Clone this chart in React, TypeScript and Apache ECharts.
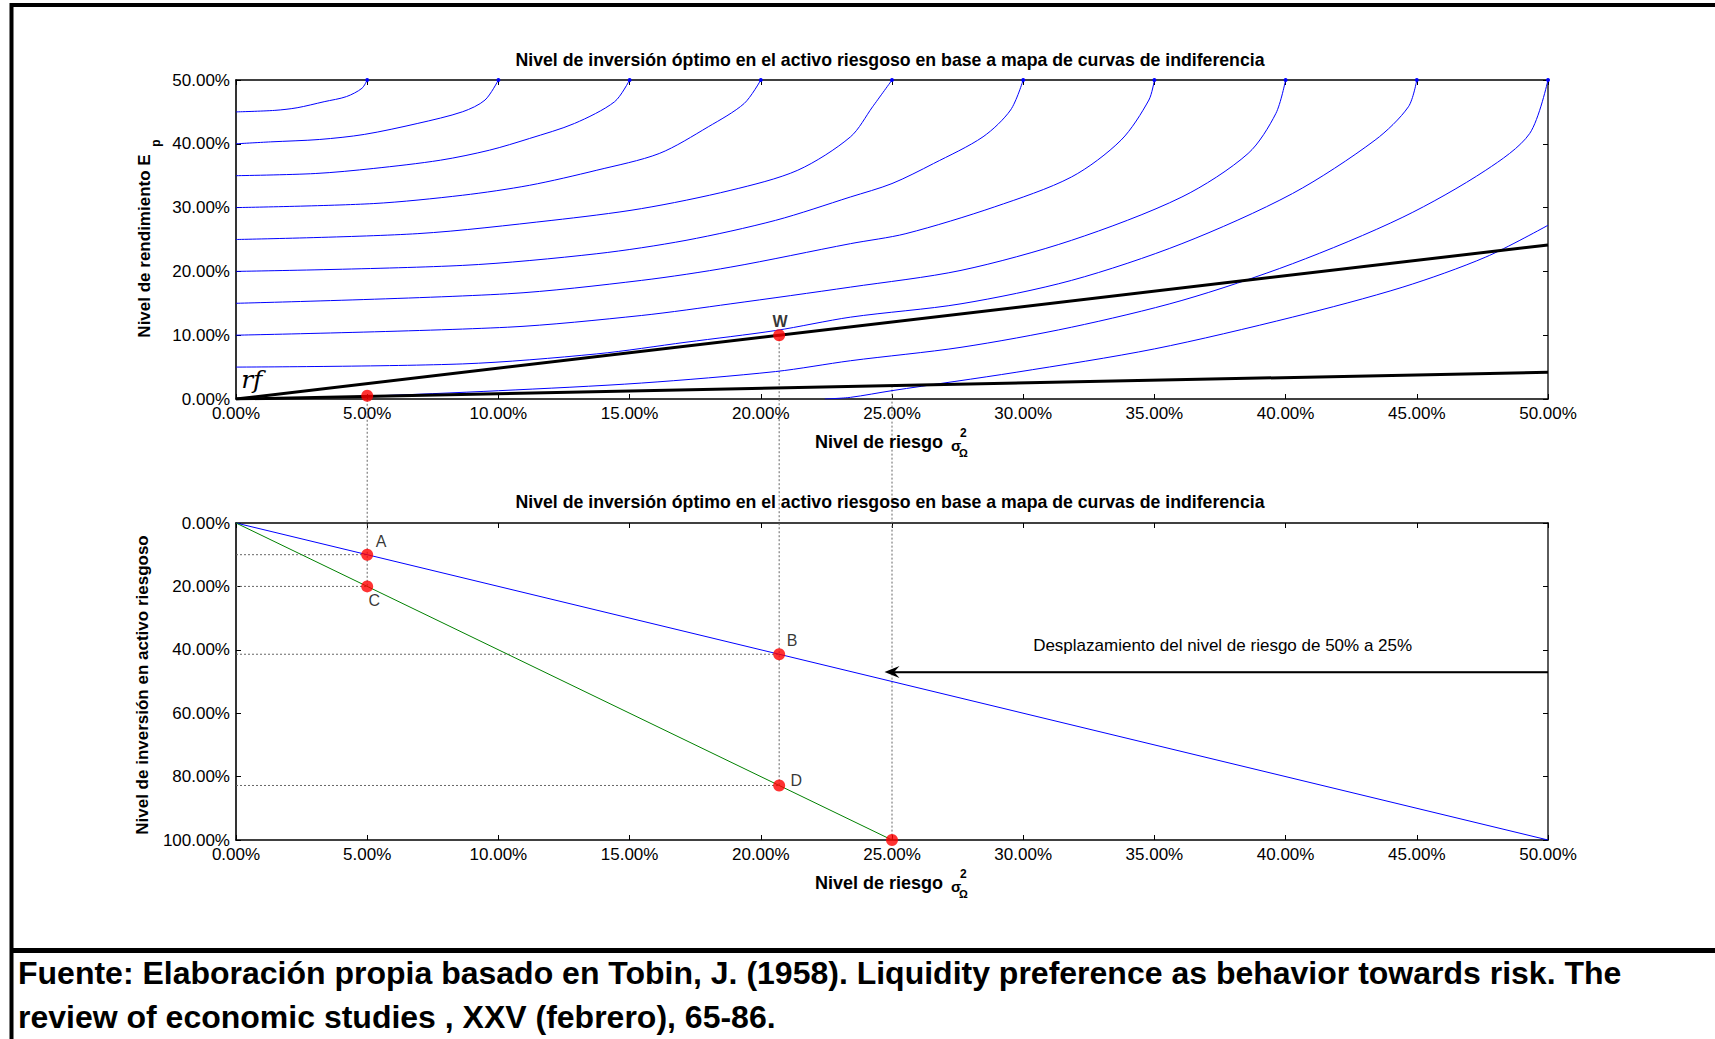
import React, { useEffect, useRef } from 'react';
import * as echarts from 'echarts';

// ---------- DATA (values in percent) ----------
const xTickInterval = 5;
const topYInterval = 10;
const bottomYInterval = 20;

const curve45 = [[0, 45], [1.48, 45.24], [2.33, 45.65], [3.36, 46.6], [4.21, 47.4], [4.8, 48.7], [5, 50]];
const curve40 = [[0, 40], [1.31, 40.3], [3.19, 40.68], [4.89, 41.47], [6.93, 43.2], [8.64, 45.03], [9.49, 46.86], [10, 50]];
const curve35 = [[0, 35], [3.02, 35.34], [5.23, 36.13], [7.79, 37.43], [9.66, 39.0], [11.19, 40.84], [12.9, 43.19], [14.43, 46.6], [15, 50]];
const curve30 = [[0, 30], [5.23, 30.63], [8.64, 31.94], [11.19, 33.5], [13.75, 35.86], [16.13, 38.48], [18.0, 42.67], [19.37, 46.33], [20, 50]];
const curve25 = [[0, 25], [6.93, 25.92], [12.04, 28.0], [15.45, 29.84], [18.86, 32.72], [21.41, 35.86], [23.42, 41.1], [24.26, 45.8], [25, 50]];
const curve20 = [[0, 20], [8.64, 20.94], [13.75, 22.77], [17.15, 24.87], [20.56, 28.0], [23.42, 31.67], [25, 33.77], [26.58, 36.9], [28.47, 41.1], [29.52, 45.3], [30, 50]];
const curve15 = [[0, 15], [10.34, 16.49], [15.45, 18.59], [18.86, 20.68], [23.42, 24.35], [25.53, 25.92], [28.9, 30.1], [31.84, 34.8], [33.73, 40.58], [34.79, 46.86], [35, 50]];
const curve10 = [[0, 10], [10.34, 11.25], [15.45, 13.09], [18.86, 14.92], [23.42, 17.54], [27.63, 20.16], [31.84, 24.87], [36.05, 31.67], [38.57, 38.48], [39.63, 44.76], [40, 50]];
const curve05 = [[0, 5], [8.64, 5.5], [13.75, 7.07], [17.15, 8.9], [20.56, 10.73], [23.42, 12.83], [27.63, 14.92], [31.84, 18.59], [36.05, 24.35], [40.26, 32.2], [43.41, 40.58], [44.68, 45.8], [45, 50]];
const curve00 = [[0, 0], [5, 0.45], [10, 1.3], [15.45, 2.5], [20.56, 4.3], [23.42, 6.0], [27.63, 8.1], [31.84, 11.25], [36.05, 15.45], [40.26, 21.2], [44.47, 28.5], [47.63, 35.86], [49.3, 41.6], [50, 50]];
const curveM5 = [[22.44, 0], [23.42, 0.26], [25, 1.31], [29.73, 4.19], [35, 7.85], [40.26, 12.83], [44.47, 17.54], [47.63, 22.25], [50, 27.23]];
const indifferenceCurves = [curve45, curve40, curve35, curve30, curve25, curve20, curve15, curve10, curve05, curve00, curveM5];

const capitalLineHigh = [[0, 0], [50, 24.15]];
const capitalLineLow = [[0, 0], [50, 4.2]];
const pointLow = [5, 0.5];
const pointW = [20.7, 10];

const investBlue = [[0, 0], [50, 100]];
const investGreen = [[0, 0], [25, 100]];
const pointA = [5, 10];
const pointC = [5, 20];
const pointB = [20.7, 41.4];
const pointD = [20.7, 82.8];
const pointE = [25, 100];
const arrowFrom = [50, 47];
const arrowTo = [25, 47];
const arrowTextPos = [37.6, 38.5];
const rfPos = [0.6, 3.1];

const titleText = 'Nivel de inversión óptimo en el activo riesgoso en base a mapa de curvas de indiferencia';
const arrowText = 'Desplazamiento del nivel de riesgo de 50% a 25%';
const footer1 = 'Fuente: Elaboración propia basado en Tobin, J. (1958). Liquidity preference as behavior towards risk. The';
const footer2 = 'review of economic studies , XXV (febrero), 65-86.';

const FONT = '"Liberation Sans", Arial, Helvetica, sans-serif';
const pct = (v: number) => v.toFixed(2) + '%';

function axisX(gridIndex: number, position: 'bottom' | 'top', labels: boolean) {
  return {
    type: 'value', gridIndex, position, min: 0, max: 50, interval: xTickInterval,
    axisLine: { show: true, onZero: false, lineStyle: { color: '#000', width: 1.6 } },
    axisTick: { show: true, inside: true, length: 5, lineStyle: { color: '#000', width: 1 } },
    axisLabel: { show: labels, formatter: pct, fontSize: 17, color: '#000', margin: 6, fontFamily: FONT },
    splitLine: { show: false },
  };
}
function axisY(gridIndex: number, position: 'left' | 'right', labels: boolean, max: number, interval: number, inverse: boolean) {
  return {
    type: 'value', gridIndex, position, min: 0, max, interval, inverse,
    axisLine: { show: true, onZero: false, lineStyle: { color: position === 'left' ? '#000' : '#333', width: 1.6 } },
    axisTick: { show: true, inside: true, length: 5, lineStyle: { color: '#000', width: 1 } },
    axisLabel: { show: labels, formatter: pct, fontSize: 17, color: '#000', margin: 6, fontFamily: FONT },
    splitLine: { show: false },
  };
}

export default function App() {
  const ref = useRef<HTMLDivElement>(null);
  useEffect(() => {
    const chart = echarts.init(ref.current!, null, { renderer: 'svg' });
    const series: any[] = [];
    indifferenceCurves.forEach((c) => {
      series.push({
        type: 'line', xAxisIndex: 0, yAxisIndex: 0, symbol: 'none', showSymbol: true,
        smooth: 0.3, lineStyle: { color: '#0000ff', width: 1 }, itemStyle: { color: '#0000ff' },
        data: c.map((p, i) => (i === c.length - 1 && p[1] === 50 ? { value: p, symbol: 'circle', symbolSize: 4 } : p)),
        z: 2, silent: true,
      });
    });
    [capitalLineHigh, capitalLineLow].forEach((l) => {
      series.push({ type: 'line', xAxisIndex: 0, yAxisIndex: 0, symbol: 'none', data: l, lineStyle: { color: '#000', width: 3 }, z: 3, silent: true });
    });
    series.push({
      type: 'scatter', xAxisIndex: 0, yAxisIndex: 0, symbolSize: 12, itemStyle: { color: '#ff0000' }, z: 5,
      data: [
        { value: pointLow },
        { value: pointW, label: { show: true, formatter: 'W', position: 'inside', offset: [1, -14], color: '#000', fontWeight: 'bold', fontSize: 16, fontFamily: FONT } },
      ],
    });
    // bottom grid
    series.push({ type: 'line', xAxisIndex: 2, yAxisIndex: 2, symbol: 'none', data: investBlue, lineStyle: { color: '#0000ff', width: 1 }, z: 3, silent: true });
    series.push({ type: 'line', xAxisIndex: 2, yAxisIndex: 2, symbol: 'none', data: investGreen, lineStyle: { color: '#008000', width: 1 }, z: 3, silent: true });
    [pointA, pointC, pointB, pointD].forEach((p) => {
      series.push({ type: 'line', xAxisIndex: 2, yAxisIndex: 2, symbol: 'none', data: [[0, p[1]], p], lineStyle: { color: '#666', width: 1, type: [2, 2] }, z: 2, silent: true });
    });
    series.push({
      type: 'line', xAxisIndex: 2, yAxisIndex: 2, symbol: 'none', data: [arrowFrom, arrowTo], lineStyle: { color: '#000', width: 1.3 }, z: 3, silent: true,
      markLine: {
        silent: true, symbol: ['none', 'path://M5,0 L10,14 L5,9 L0,14 Z'], symbolSize: [12, 15],
        lineStyle: { color: '#000', width: 1.3, type: 'solid' }, label: { show: false },
        data: [[{ coord: arrowFrom }, { coord: arrowTo }]],
      },
    });
    const lbl = (t: string, off: number[]) => ({ show: true, formatter: t, position: 'inside', offset: off, color: '#000', fontSize: 16, fontFamily: FONT });
    series.push({
      type: 'scatter', xAxisIndex: 2, yAxisIndex: 2, symbolSize: 12, itemStyle: { color: '#ff0000' }, z: 5,
      data: [
        { value: pointA, label: lbl('A', [14, -13]) },
        { value: pointC, label: lbl('C', [7, 14]) },
        { value: pointB, label: lbl('B', [13, -14]) },
        { value: pointD, label: lbl('D', [17, -5]) },
        { value: pointE },
      ],
    });

    chart.setOption({
      animation: false,
      backgroundColor: '#fff',
      grid: [
        { left: 236, top: 80, width: 1312, height: 319 },
        { left: 236, top: 523, width: 1312, height: 317 },
      ],
      xAxis: [axisX(0, 'bottom', true), axisX(0, 'top', false), axisX(1, 'bottom', true), axisX(1, 'top', false)],
      yAxis: [
        axisY(0, 'left', true, 50, topYInterval, false), axisY(0, 'right', false, 50, topYInterval, false),
        axisY(1, 'left', true, 100, bottomYInterval, true), axisY(1, 'right', false, 100, bottomYInterval, true),
      ],
      series,
    });

    const p0 = (pt: number[]) => chart.convertToPixel({ xAxisIndex: 0, yAxisIndex: 0 }, pt) as number[];
    const p1 = (pt: number[]) => chart.convertToPixel({ xAxisIndex: 2, yAxisIndex: 2 }, pt) as number[];
    const vline = (a: number[], b: number[]) => ({
      type: 'line', shape: { x1: a[0], y1: a[1], x2: b[0], y2: b[1] }, silent: true, z: 1,
      style: { stroke: '#666', lineWidth: 1, lineDash: [2, 2] },
    });
    const txt = (x: number, y: number, text: string, o: any = {}, rotation = 0) => ({
      type: 'text', x, y, rotation, silent: true, z: 10,
      style: { text, fill: '#000', fontFamily: FONT, fontSize: 17, fontWeight: 'bold', align: 'left', verticalAlign: 'middle', ...o },
    });
    const xName = (dy: number) => [
      txt(815, 442 + dy, 'Nivel de riesgo', { fontSize: 18 }),
      txt(951, 445 + dy, 'σ', { fontSize: 15 }),
      txt(960, 433 + dy, '2', { fontSize: 12 }),
      txt(959, 453 + dy, 'Ω', { fontSize: 11 }),
    ];
    const low = p0(pointLow), w = p0(pointW), c = p1(pointC), d = p1(pointD);
    const e0 = p0([25, capitalLineLow[1][1] * 25 / 50]), e1 = p1(pointE);
    const rf = p0(rfPos), at = p1(arrowTextPos);
    const R = Math.PI / 2;
    chart.setOption({
      graphic: [
        { type: 'line', shape: { x1: 11.5, y1: 3, x2: 11.5, y2: 1039 }, style: { stroke: '#000', lineWidth: 4 }, silent: true },
        { type: 'line', shape: { x1: 10, y1: 5, x2: 1715, y2: 5 }, style: { stroke: '#000', lineWidth: 4 }, silent: true },
        { type: 'line', shape: { x1: 10, y1: 950.5, x2: 1715, y2: 950.5 }, style: { stroke: '#000', lineWidth: 5 }, silent: true },
        vline(low, c), vline(w, d), vline(e0, e1),
        txt(890, 60, titleText, { align: 'center', fontSize: 17.7 }),
        txt(890, 502, titleText, { align: 'center', fontSize: 17.7 }),
        ...xName(0), ...xName(441),
        txt(144, 246, 'Nivel de rendimiento E', { align: 'center' }, R),
        txt(156, 143, 'p', { align: 'center', fontSize: 12 }, R),
        txt(142, 685, 'Nivel de inversión en activo riesgoso', { align: 'center' }, R),
        txt(rf[0], rf[1], 'rf', { align: 'center', fontFamily: '"DejaVu Serif", serif', fontStyle: 'italic', fontWeight: 'normal', fontSize: 25 }),
        txt(at[0], at[1], arrowText, { align: 'center', fontWeight: 'normal', fontSize: 17 }),
        txt(18, 973, footer1, { fontSize: 32 }),
        txt(18, 1017, footer2, { fontSize: 32 }),
      ],
    });
    return () => chart.dispose();
  }, []);
  return <div ref={ref} style={{ position: 'fixed', left: 0, top: 0, width: 1715, height: 1039, background: '#fff' }} />;
}
